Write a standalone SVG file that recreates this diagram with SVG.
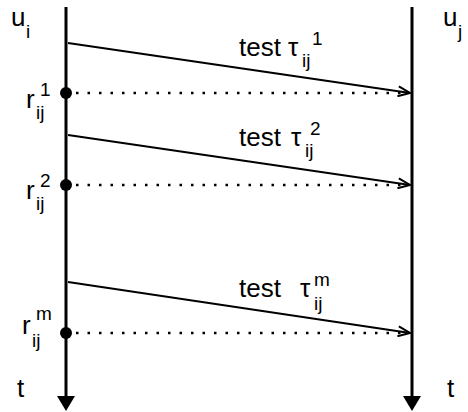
<svg xmlns="http://www.w3.org/2000/svg" width="468" height="412" viewBox="0 0 468 412">
<style>
text{font-family:"Liberation Sans",Arial,sans-serif;fill:#000}
.m{font-size:26px}
.s{font-size:19px}
.life{stroke:#000;stroke-width:3;fill:none}
.msg{stroke:#000;stroke-width:2;fill:none}
.dot{stroke:#000;stroke-width:2.5;stroke-dasharray:2.5 9;fill:none}
</style>
<defs>
<marker id="open" viewBox="0 0 14 12" refX="13" refY="6" markerWidth="14" markerHeight="12" markerUnits="userSpaceOnUse" orient="auto">
<path d="M1,1 L13,6 L1,11" fill="none" stroke="#000" stroke-width="2"/>
</marker>
</defs>
<rect width="468" height="412" fill="#fff"/>
<g id="ui">
<line class="life" x1="66" y1="7" x2="66" y2="398"/>
<polygon points="57,396 75,396 66,411" fill="#000"/>
<text class="m" x="11" y="26">u</text><text class="s" x="26" y="38">i</text>
<text class="m" x="17" y="397">t</text>
</g>
<g id="uj">
<line class="life" x1="412" y1="7" x2="412" y2="398"/>
<polygon points="403,396 421,396 412,411" fill="#000"/>
<text class="m" x="443" y="26">u</text><text class="s" x="458" y="38">j</text>
<text class="m" x="447" y="397">t</text>
</g>
<g id="r1">
<circle cx="66" cy="93" r="6" fill="#000"/>
<text class="m" x="26" y="108">r</text><text class="s" x="36" y="119">ij</text><text class="s" x="40" y="96">1</text>
</g>
<g id="r2">
<circle cx="66" cy="185" r="6" fill="#000"/>
<text class="m" x="26" y="199">r</text><text class="s" x="36" y="210">ij</text><text class="s" x="40" y="187">2</text>
</g>
<g id="rm">
<circle cx="66" cy="333" r="6" fill="#000"/>
<text class="m" x="22" y="334">r</text><text class="s" x="32" y="347">ij</text><text class="s" x="36" y="320">m</text>
</g>
<g id="connectors">
<line class="msg" x1="68" y1="43" x2="410" y2="93" marker-end="url(#open)"/>
<line class="dot" x1="76" y1="93" x2="404" y2="93"/>
<line class="msg" x1="68" y1="135" x2="410" y2="185" marker-end="url(#open)"/>
<line class="dot" x1="76" y1="185" x2="404" y2="185"/>
<line class="msg" x1="68" y1="282" x2="410" y2="333" marker-end="url(#open)"/>
<line class="dot" x1="76" y1="333" x2="404" y2="333"/>
</g>
<g id="labels">
<text class="m" x="239" y="56">test</text><text class="m" x="288" y="56">τ</text><text class="s" x="302" y="67">ij</text><text class="s" x="312" y="45">1</text>
<text class="m" x="239" y="146">test</text><text class="m" x="291" y="146">τ</text><text class="s" x="305" y="157">ij</text><text class="s" x="310" y="135">2</text>
<text class="m" x="239" y="297">test</text><text class="m" x="300" y="297">τ</text><text class="s" x="314" y="310">ij</text><text class="s" x="314" y="286">m</text>
</g>
</svg>
